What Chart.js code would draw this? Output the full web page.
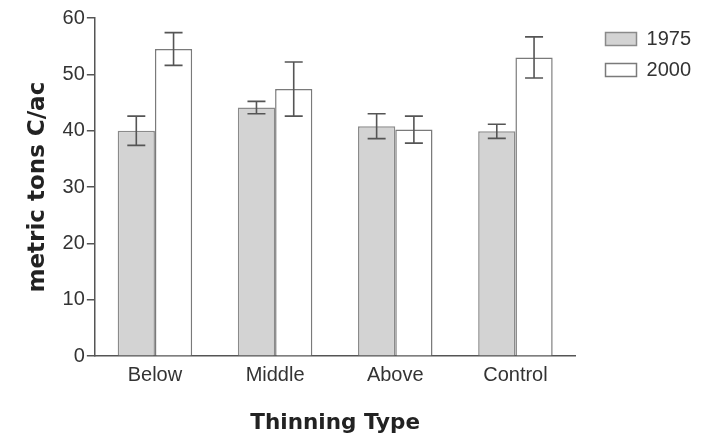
<!DOCTYPE html>
<html>
<head>
<meta charset="utf-8">
<script src="https://cdn.jsdelivr.net/npm/chart.js@4"></script>
<style>
  body { margin: 0; background: #fff; }
  #wrap { width: 715px; height: 440px; }
</style>
</head>
<body>
<div id="wrap"><canvas id="bar-chart"></canvas></div>
<script>
// data
var categorias = ['Below', 'Middle', 'Above', 'Control'];
var series = ['1975', '2000'];
var valores1975 = [40.0, 44.1, 40.8, 39.9];
var valores2000 = [54.5, 47.4, 40.2, 53.0];
var error1975 = [2.6, 1.1, 2.2, 1.25];
var error2000 = [2.9, 4.8, 2.4, 3.65];
var yTicks = [0, 10, 20, 30, 40, 50, 60];

var errores = [error1975, error2000];

// error bars drawn on top of the bars, through the y scale
var errorBars = {
  id: 'errorBars',
  afterDatasetsDraw: function (chart) {
    var ctx = chart.ctx;
    var yScale = chart.scales.y;
    ctx.save();
    ctx.strokeStyle = '#555';
    ctx.lineWidth = 1.6;
    chart.data.datasets.forEach(function (ds, d) {
      var meta = chart.getDatasetMeta(d);
      meta.data.forEach(function (bar, i) {
        var v = ds.data[i];
        var e = errores[d][i];
        var top = yScale.getPixelForValue(v + e);
        var bot = yScale.getPixelForValue(v - e);
        ctx.beginPath();
        ctx.moveTo(bar.x, top);
        ctx.lineTo(bar.x, bot);
        ctx.moveTo(bar.x - 9, top);
        ctx.lineTo(bar.x + 9, top);
        ctx.moveTo(bar.x - 9, bot);
        ctx.lineTo(bar.x + 9, bot);
        ctx.stroke();
      });
    });
    ctx.restore();
  }
};

var ctx = document.getElementById('bar-chart').getContext('2d');
var chart = new Chart(ctx, {
  type: 'bar',
  data: {
    labels: categorias,
    datasets: [
      {
        label: series[0],
        data: valores1975,
        backgroundColor: '#d3d3d3',
        borderColor: '#8a8a8a',
        borderWidth: 1.5
      },
      {
        label: series[1],
        data: valores2000,
        backgroundColor: '#ffffff',
        borderColor: '#7a7a7a',
        borderWidth: 1.5
      }
    ]
  },
  options: {
    responsive: true,
    maintainAspectRatio: false,
    animation: false,
    layout: { padding: { top: 18, left: 10, right: 14, bottom: 0 } },
    datasets: { bar: { categoryPercentage: 0.62, barPercentage: 1.0 } },
    plugins: {
      tooltip: { enabled: false },
      legend: {
        position: 'right',
        align: 'start',
        labels: {
          boxWidth: 31,
          boxHeight: 13,
          padding: 11,
          color: '#333',
          font: { family: 'Liberation Sans', size: 20 }
        }
      }
    },
    scales: {
      x: {
        grid: { display: false },
        border: { display: true, color: '#555', width: 1.5 },
        ticks: {
          padding: -1,
          color: '#333',
          font: { family: 'Liberation Sans', size: 20 }
        },
        title: {
          display: true,
          text: 'Thinning Type',
          color: '#222',
          padding: { top: 24, bottom: 4 },
          font: { family: 'DejaVu Sans', size: 21.5, weight: 'bold' }
        }
      },
      y: {
        min: 0,
        max: 60,
        afterBuildTicks: function (scale) {
          scale.ticks = yTicks.map(function (v) { return { value: v }; });
        },
        grid: { drawOnChartArea: false, drawTicks: true, tickLength: 8, color: '#555', lineWidth: 1.5 },
        border: { display: true, color: '#555', width: 1.5 },
        ticks: {
          padding: 2,
          color: '#333',
          font: { family: 'Liberation Sans', size: 20 }
        },
        title: {
          display: true,
          text: 'metric tons C/ac',
          color: '#222',
          padding: { top: 14, bottom: 9 },
          font: { family: 'DejaVu Sans', size: 23, weight: 'bold' }
        }
      },
      // empty axis that only keeps a gap between the plot and the legend
      hueco: {
        position: 'right',
        display: true,
        grid: { display: false },
        border: { display: false },
        ticks: { display: false },
        afterFit: function (scale) { scale.width = 19; }
      }
    }
  },
  plugins: [errorBars]
});
</script>
</body>
</html>
